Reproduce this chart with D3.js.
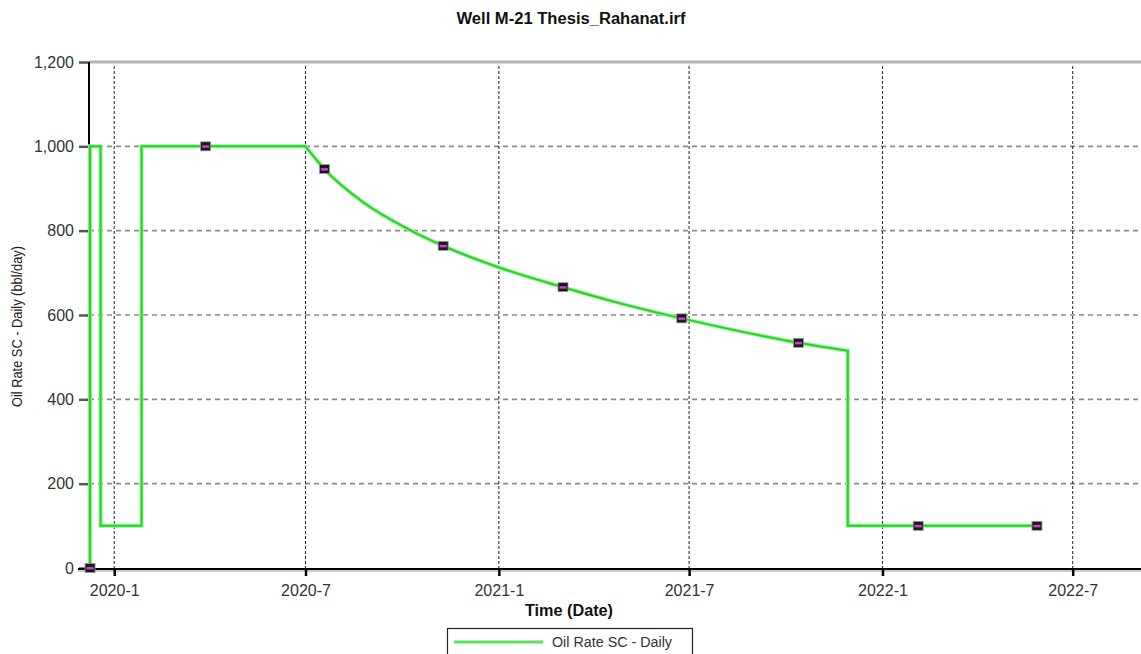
<!DOCTYPE html>
<html>
<head>
<meta charset="utf-8">
<script src="https://cdn.jsdelivr.net/npm/d3@7/dist/d3.min.js"></script>
<style>
  html, body { margin: 0; padding: 0; background: #fff; }
  svg { display: block; font-family: "Liberation Sans", Arial, sans-serif; }
</style>
</head>
<body>
<svg id="chart" width="1141" height="654"></svg>
<script>
// Oil rate history for well M-21 (daily, bbl/day)
const rateDates = ["2019-12-09","2019-12-09","2019-12-19","2019-12-19","2020-01-27","2020-01-27",
  "2020-07-01","2020-07-19","2020-08-24","2020-10-08","2020-11-09","2021-01-02","2021-03-03",
  "2021-05-02","2021-06-24","2021-08-21","2021-10-13","2021-11-29","2021-11-29","2022-05-28"];
const rateValues = [0,1000,1000,100,100,1000,
  1000,946,869,802,764,712,666,
  624,592,560,534,515,100,100];

// Symbol positions along the curve
const markerDates = ["2019-12-09","2020-03-28","2020-07-19","2020-11-09","2021-03-03",
  "2021-06-24","2021-10-13","2022-02-04","2022-05-28"];
const markerValues = [0,1000,946,764,666,592,534,100,100];

const xTickDates = ["2020-01-01","2020-07-01","2021-01-01","2021-07-01","2022-01-01","2022-07-01"];
const yTickValues = [0,200,400,600,800,1000,1200];

const titleText = "Well M-21 Thesis_Rahanat.irf";
const xTitle = "Time (Date)";
const yTitle = "Oil Rate SC - Daily (bbl/day)";
const seriesName = "Oil Rate SC - Daily";

(function () {
const parse = d3.utcParse("%Y-%m-%d");
const svg = d3.select("#chart");
const fontStack = "'Liberation Sans', Arial, sans-serif";

const plotLeft = 89, plotTop = 62, plotBottom = 568, plotRight = 1141;
const x = d3.scaleUtc()
  .domain([parse("2019-12-08"), parse("2022-09-04")])
  .range([plotLeft, plotRight]);
const y = d3.scaleLinear().domain([0, 1200]).range([plotBottom, plotTop]);

// Title
svg.append("text")
  .attr("x", 571).attr("y", 24)
  .attr("text-anchor", "middle")
  .attr("font-weight", "bold").attr("font-size", 16)
  .attr("textLength", 229).attr("lengthAdjust", "spacingAndGlyphs")
  .attr("fill", "#111")
  .text(titleText);

// Horizontal grid (dashed gray)
svg.append("g").selectAll("line")
  .data(yTickValues.filter(v => v > 0 && v < 1200))
  .join("line")
  .attr("x1", plotLeft).attr("x2", plotRight)
  .attr("y1", d => y(d)).attr("y2", d => y(d))
  .attr("stroke", "#8a8a8a").attr("stroke-width", 1.6)
  .attr("stroke-dasharray", "5,4");

// Vertical grid (fine dashed black)
svg.append("g").selectAll("line")
  .data(xTickDates.map(parse))
  .join("line")
  .attr("x1", d => x(d)).attr("x2", d => x(d))
  .attr("y1", plotTop + 4).attr("y2", plotBottom)
  .attr("stroke", "#222").attr("stroke-width", 1)
  .attr("stroke-dasharray", "3,2");

// Top border
svg.append("line")
  .attr("x1", plotLeft).attr("x2", plotRight)
  .attr("y1", y(1200)).attr("y2", y(1200))
  .attr("stroke", "#b4b4b4").attr("stroke-width", 3);

// Y axis
const yAxis = d3.axisLeft(y)
  .tickValues(yTickValues)
  .tickSize(10).tickPadding(5)
  .tickFormat(d3.format(",.0f"));
const gy = svg.append("g").attr("transform", `translate(${plotLeft},0)`).call(yAxis);
gy.select(".domain").remove();
gy.selectAll(".tick line").attr("stroke", "#555").attr("stroke-width", 2.5);
gy.selectAll(".tick text").attr("font-size", 16).attr("fill", "#333")
  .attr("font-family", fontStack);
svg.append("line")
  .attr("x1", plotLeft).attr("x2", plotLeft).attr("y1", plotTop).attr("y2", plotBottom + 1)
  .attr("stroke", "#000").attr("stroke-width", 2);

// X axis
const xAxis = d3.axisBottom(x)
  .tickValues(xTickDates.map(parse))
  .tickSize(7).tickPadding(9)
  .tickFormat(d3.utcFormat("%Y-%-m"));
svg.append("line")
  .attr("x1", plotLeft - 11).attr("x2", plotRight).attr("y1", plotBottom + 3).attr("y2", plotBottom + 3)
  .attr("stroke", "#ccc").attr("stroke-width", 2);
const gx = svg.append("g").attr("transform", `translate(0,${plotBottom + 1})`).call(xAxis);
gx.select(".domain").remove();
gx.selectAll(".tick line").attr("stroke", "#000").attr("stroke-width", 2.5);
gx.selectAll(".tick text").attr("font-size", 16).attr("fill", "#333")
  .attr("font-family", fontStack);
svg.append("line")
  .attr("x1", plotLeft - 11).attr("x2", plotRight).attr("y1", plotBottom + 1).attr("y2", plotBottom + 1)
  .attr("stroke", "#000").attr("stroke-width", 2);

// Axis titles
svg.append("text")
  .attr("x", 569).attr("y", 616)
  .attr("text-anchor", "middle")
  .attr("font-weight", "bold").attr("font-size", 16)
  .attr("textLength", 88).attr("lengthAdjust", "spacingAndGlyphs")
  .attr("fill", "#111")
  .text(xTitle);

svg.append("text")
  .attr("transform", `translate(22,${(246 + 407) / 2}) rotate(-90)`)
  .attr("text-anchor", "middle")
  .attr("font-size", 14)
  .attr("textLength", 161).attr("lengthAdjust", "spacingAndGlyphs")
  .attr("fill", "#222")
  .text(yTitle);

// Rate curve: flat and vertical stretches stay straight, sloped runs are smoothed
const series = rateDates.map((d, i) => ({ date: parse(d), value: rateValues[i] }));
const runs = [];
let current = [series[0]];
for (let i = 1; i < series.length; i++) {
  const a = series[i - 1], b = series[i];
  const sloped = +a.date !== +b.date && a.value !== b.value;
  const prevSloped = current.length > 1 &&
    +current[current.length - 2].date !== +a.date && current[current.length - 2].value !== a.value;
  if (current.length > 1 && sloped !== prevSloped) {
    runs.push(current);
    current = [a];
  }
  current.push(b);
}
runs.push(current);

const smooth = d3.line().x(d => x(d.date)).y(d => y(d.value)).curve(d3.curveMonotoneX);
const straight = d3.line().x(d => x(d.date)).y(d => y(d.value));
const pathD = runs.map((run, i) => {
  const isSloped = run.length > 2 && run.every((p, j) => j === 0 ||
    (+p.date !== +run[j - 1].date && p.value !== run[j - 1].value));
  const d = (isSloped ? smooth : straight)(run);
  return i === 0 ? d : "L" + d.slice(1);
}).join("");

svg.append("path")
  .attr("d", pathD)
  .attr("fill", "none")
  .attr("stroke", "#9bef9b").attr("stroke-width", 4).attr("stroke-linejoin", "miter");
svg.append("path")
  .attr("d", pathD)
  .attr("fill", "none")
  .attr("stroke", "#1ed81e").attr("stroke-width", 2).attr("stroke-linejoin", "miter");

// Symbols
const marks = markerDates.map((d, i) => ({ date: parse(d), value: markerValues[i] }));
const gm = svg.append("g");
gm.selectAll("rect.m").data(marks).join("rect")
  .attr("class", "m")
  .attr("x", d => x(d.date) - 5).attr("y", d => y(d.value) - 4.5)
  .attr("width", 10).attr("height", 9)
  .attr("fill", "#1a1a1a").attr("stroke", "#999").attr("stroke-width", 0.8);
gm.selectAll("rect.c").data(marks).join("rect")
  .attr("class", "c")
  .attr("x", d => x(d.date) - 3.5).attr("y", d => y(d.value) - 1)
  .attr("width", 7).attr("height", 2.5)
  .attr("fill", "#d13bd1");

// Legend
const lg = svg.append("g");
lg.append("rect")
  .attr("x", 447.5).attr("y", 628.5).attr("width", 245).attr("height", 40)
  .attr("fill", "#fff").attr("stroke", "#222").attr("stroke-width", 1.2);
lg.append("line")
  .attr("x1", 454).attr("x2", 543).attr("y1", 642).attr("y2", 642)
  .attr("stroke", "#5fe35f").attr("stroke-width", 3);
lg.append("text")
  .attr("x", 552).attr("y", 647)
  .attr("font-size", 14).attr("fill", "#333")
  .attr("textLength", 120).attr("lengthAdjust", "spacingAndGlyphs")
  .text(seriesName);
})();
</script>
</body>
</html>
